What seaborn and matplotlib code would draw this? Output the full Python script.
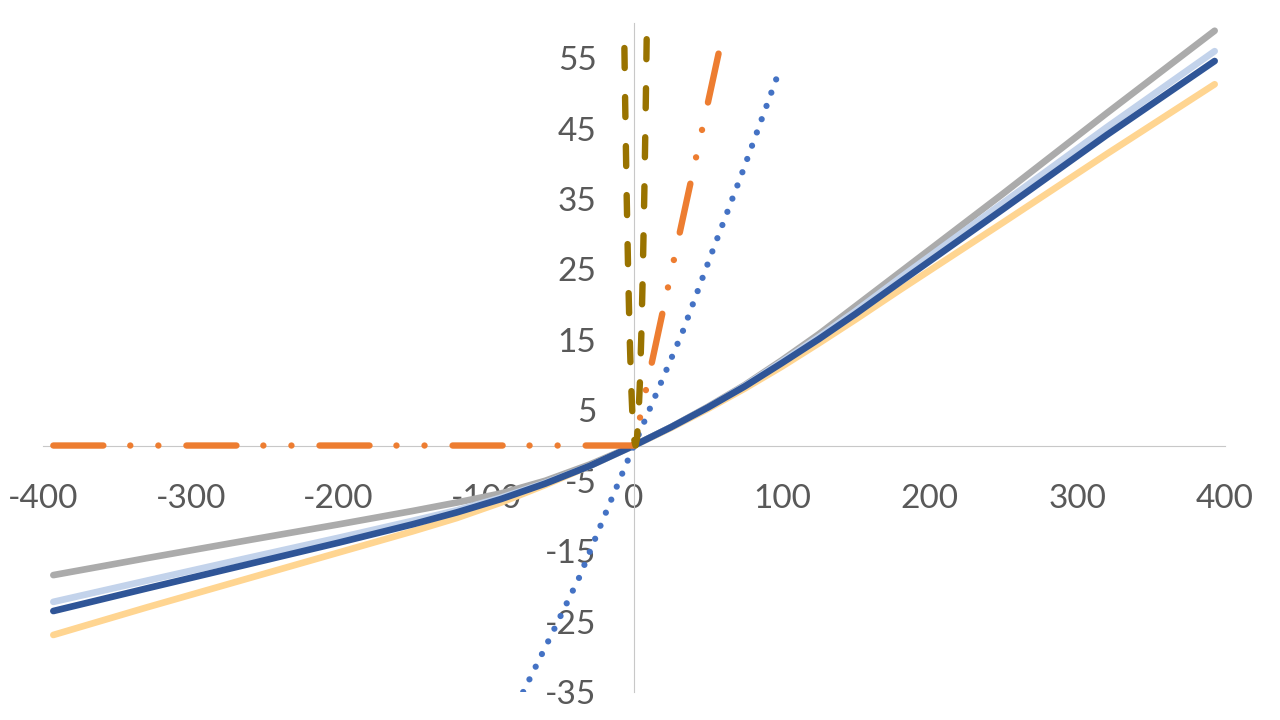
import matplotlib
matplotlib.use("Agg")
import matplotlib.pyplot as plt
import seaborn as sns
import pandas as pd

# ---- data ----
x_curve = [-393, -330, -260, -200, -150, -120, -90, -60, -30, 0,
           25, 50, 75, 100, 125, 150, 180, 250, 320, 393]
y_gray = [-18.4, -16.0, -13.4, -11.2, -9.3, -8.1, -6.8, -5.0, -2.7, 0.0,
          2.6, 5.5, 8.6, 12.1, 15.8, 19.8, 24.6, 35.8, 47.2, 58.9]
y_lightblue = [-22.2, -19.2, -15.9, -13.1, -10.7, -9.2, -7.4, -5.3, -2.9, 0.0,
               2.6, 5.4, 8.5, 11.9, 15.4, 19.1, 23.8, 34.5, 45.2, 56.0]
y_darkblue = [-23.5, -20.3, -16.8, -13.8, -11.2, -9.5, -7.6, -5.4, -2.9, 0.0,
              2.6, 5.4, 8.4, 11.7, 15.1, 18.7, 23.2, 33.6, 44.1, 54.6]
y_lightorange = [-26.9, -23.0, -18.8, -15.2, -12.2, -10.3, -8.1, -5.6, -2.9, 0.0,
                 2.5, 5.2, 8.1, 11.2, 14.5, 17.9, 22.1, 31.7, 41.4, 51.3]

x_dotted = [-75, -55, -37, -18, 0, 16, 33, 52, 73, 99]
y_dotted = [-35.0, -26.5, -18.7, -9.0, 0.0, 7.8, 16.2, 27.0, 38.6, 53.6]

x_relu = [-393, 0, 30, 61]
y_relu = [0.0, 0.0, 29.3, 59.3]

x_square = [-7, -6, -5, -4, -3, -2, -1, 0, 1, 2, 3, 4, 5, 6, 7, 8, 9]
y_square = [64, 49, 36, 25, 16, 9, 4, 1, 0, 1, 4, 9, 16, 25, 36, 49, 64]

x_ticks = [-400, -300, -200, -100, 0, 100, 200, 300, 400]
y_ticks = [-35, -25, -15, -5, 5, 15, 25, 35, 45, 55]

# ---- style ----
sns.set_style("white")
plt.rcParams["font.family"] = ["Lato", "DejaVu Sans"]
plt.rcParams["lines.scale_dashes"] = False

fig = plt.figure(figsize=(12.8, 7.2), dpi=100)
ax = fig.add_axes([43 / 1280, 1 - 692 / 720, (1225 - 43) / 1280, (692 - 23) / 720])

def draw(x, y, color, lw, ls="-", z=2):
    df = pd.DataFrame({"x": x, "y": y})
    sns.lineplot(data=df, x="x", y="y", ax=ax, color=color, linewidth=lw,
                 linestyle=ls, sort=False, estimator=None,
                 solid_capstyle="round", solid_joinstyle="round",
                 dash_capstyle="round", zorder=z)

draw(x_curve, y_gray, "#ABABAB", 4.8, z=2)
draw(x_curve, y_lightorange, "#FFD591", 4.8, z=2.1)
draw(x_curve, y_lightblue, "#C3D3EB", 4.8, z=2.2)
draw(x_curve, y_darkblue, "#2F5597", 4.8, z=2.3)
draw(x_dotted, y_dotted, "#4472C4", 4.5, ls=(0, (0.01, 10.15)), z=2.4)
draw(x_relu, y_relu, "#ED7D31", 4.6, ls=(0, (36, 19.4, 0.01, 20.2, 0.01, 20.2)), z=2.5)
draw(x_square, y_square, "#997300", 4.6, ls=(0, (14.4, 20.9)), z=2.6)

ax.set_xlim(-400, 400)
ax.set_ylim(-35, 60)
ax.set_xticks(x_ticks)
ax.set_xticklabels([str(v) for v in x_ticks])
ax.set_yticks(y_ticks)
ax.set_yticklabels([str(v) for v in y_ticks])
ax.set_xlabel("")
ax.set_ylabel("")

for side in ["top", "right"]:
    ax.spines[side].set_visible(False)
ax.spines["left"].set_position(("data", 0))
ax.spines["bottom"].set_position(("data", 0))
for side in ["left", "bottom"]:
    ax.spines[side].set_color("#C8C8C8")
    ax.spines[side].set_linewidth(0.8)
    ax.spines[side].set_zorder(1)

ax.tick_params(axis="both", length=0, labelsize=24, labelcolor="#595959")
ax.tick_params(axis="x", pad=28)
ax.tick_params(axis="y", pad=27)
ax.grid(False)
ax.set_facecolor("white")
fig.patch.set_facecolor("white")

fig.savefig("out.png", dpi=100)
